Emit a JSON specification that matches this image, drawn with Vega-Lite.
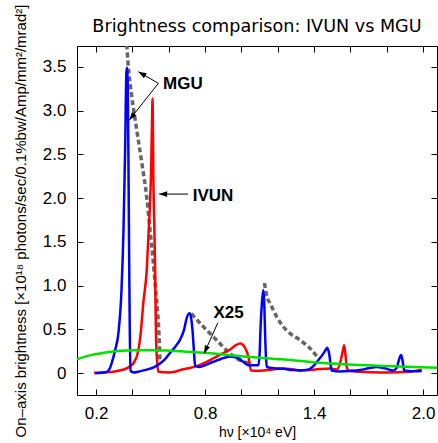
{
  "$schema": "https://vega.github.io/schema/vega-lite/v6.json",
  "width": 360,
  "height": 349,
  "autosize": {"type": "none"},
  "padding": {"left": 77, "top": 46, "right": 1, "bottom": 48},
  "background": "white",
  "config": {
    "view": {"stroke": "#000000", "strokeWidth": 1},
    "axis": {"domain": false, "grid": false, "tickColor": "#000000", "labelColor": "#000000", "titleColor": "#000000", "labelFont": "Liberation Sans", "titleFont": "Liberation Sans", "titleFontWeight": "normal", "tickSize": -6, "tickWidth": 1}
  },
  "title": {"text": "Brightness comparison: IVUN vs MGU", "font": "DejaVu Sans", "fontSize": 17.6, "fontWeight": "normal", "color": "#000000", "anchor": "middle", "frame": "group", "baseline": "alphabetic", "offset": -45},
  "datasets": {
    "curves": [
      {"s": "MGUt", "g": 1, "x": 0.366, "y": 3.85}, {"s": "MGUt", "g": 1, "x": 0.376, "y": 3.546}, {"s": "MGUt", "g": 1, "x": 0.397, "y": 3.16}, {"s": "MGUt", "g": 1, "x": 0.424, "y": 2.78}, {"s": "MGUt", "g": 1, "x": 0.452, "y": 2.40}, {"s": "MGUt", "g": 1, "x": 0.479, "y": 2.01}, {"s": "MGUt", "g": 1, "x": 0.497, "y": 1.64}, {"s": "MGUt", "g": 1, "x": 0.514, "y": 1.29}, {"s": "MGUt", "g": 1, "x": 0.528, "y": 0.95}, {"s": "MGUt", "g": 1, "x": 0.538, "y": 0.72}, {"s": "MGUt", "g": 1, "x": 0.547, "y": 0.415}, {"s": "MGUt", "g": 1, "x": 0.552, "y": 0.13},
      {"s": "MGUt", "g": 2, "x": 0.725, "y": 0.68}, {"s": "MGUt", "g": 2, "x": 0.791, "y": 0.53}, {"s": "MGUt", "g": 2, "x": 0.864, "y": 0.377}, {"s": "MGUt", "g": 2, "x": 0.938, "y": 0.225}, {"s": "MGUt", "g": 2, "x": 1.011, "y": 0.13}, {"s": "MGUt", "g": 2, "x": 1.057, "y": 0.11},
      {"s": "MGUt", "g": 3, "x": 1.127, "y": 1.03}, {"s": "MGUt", "g": 3, "x": 1.14, "y": 0.88}, {"s": "MGUt", "g": 3, "x": 1.158, "y": 0.797}, {"s": "MGUt", "g": 3, "x": 1.195, "y": 0.644}, {"s": "MGUt", "g": 3, "x": 1.231, "y": 0.53}, {"s": "MGUt", "g": 3, "x": 1.268, "y": 0.454}, {"s": "MGUt", "g": 3, "x": 1.323, "y": 0.377}, {"s": "MGUt", "g": 3, "x": 1.378, "y": 0.283}, {"s": "MGUt", "g": 3, "x": 1.424, "y": 0.168},

      {"s": "IVUN", "x": 0.189, "y": 0.003}, {"s": "IVUN", "x": 0.25, "y": 0.008}, {"s": "IVUN", "x": 0.295, "y": 0.015}, {"s": "IVUN", "x": 0.34, "y": 0.035}, {"s": "IVUN", "x": 0.369, "y": 0.054}, {"s": "IVUN", "x": 0.39, "y": 0.085}, {"s": "IVUN", "x": 0.405, "y": 0.11}, {"s": "IVUN", "x": 0.415, "y": 0.15}, {"s": "IVUN", "x": 0.424, "y": 0.19}, {"s": "IVUN", "x": 0.436, "y": 0.30}, {"s": "IVUN", "x": 0.447, "y": 0.48}, {"s": "IVUN", "x": 0.46, "y": 0.80}, {"s": "IVUN", "x": 0.479, "y": 1.18}, {"s": "IVUN", "x": 0.488, "y": 1.56}, {"s": "IVUN", "x": 0.497, "y": 1.94}, {"s": "IVUN", "x": 0.503, "y": 2.32}, {"s": "IVUN", "x": 0.507, "y": 2.75}, {"s": "IVUN", "x": 0.511, "y": 3.14}, {"s": "IVUN", "x": 0.513, "y": 2.8}, {"s": "IVUN", "x": 0.515, "y": 2.32}, {"s": "IVUN", "x": 0.52, "y": 1.75}, {"s": "IVUN", "x": 0.525, "y": 1.18}, {"s": "IVUN", "x": 0.53, "y": 0.42}, {"s": "IVUN", "x": 0.537, "y": 0.11}, {"s": "IVUN", "x": 0.543, "y": 0.015}, {"s": "IVUN", "x": 0.6, "y": 0.008}, {"s": "IVUN", "x": 0.64, "y": 0.018}, {"s": "IVUN", "x": 0.662, "y": 0.035}, {"s": "IVUN", "x": 0.71, "y": 0.055}, {"s": "IVUN", "x": 0.754, "y": 0.08}, {"s": "IVUN", "x": 0.8, "y": 0.12}, {"s": "IVUN", "x": 0.846, "y": 0.17}, {"s": "IVUN", "x": 0.89, "y": 0.22}, {"s": "IVUN", "x": 0.938, "y": 0.27}, {"s": "IVUN", "x": 0.97, "y": 0.32}, {"s": "IVUN", "x": 0.993, "y": 0.34}, {"s": "IVUN", "x": 1.01, "y": 0.32}, {"s": "IVUN", "x": 1.025, "y": 0.27}, {"s": "IVUN", "x": 1.04, "y": 0.18}, {"s": "IVUN", "x": 1.053, "y": 0.03}, {"s": "IVUN", "x": 1.103, "y": 0.026}, {"s": "IVUN", "x": 1.17, "y": 0.04}, {"s": "IVUN", "x": 1.231, "y": 0.054}, {"s": "IVUN", "x": 1.28, "y": 0.045}, {"s": "IVUN", "x": 1.323, "y": 0.034}, {"s": "IVUN", "x": 1.4, "y": 0.04}, {"s": "IVUN", "x": 1.488, "y": 0.054}, {"s": "IVUN", "x": 1.525, "y": 0.042}, {"s": "IVUN", "x": 1.543, "y": 0.11}, {"s": "IVUN", "x": 1.557, "y": 0.24}, {"s": "IVUN", "x": 1.566, "y": 0.32}, {"s": "IVUN", "x": 1.573, "y": 0.21}, {"s": "IVUN", "x": 1.58, "y": 0.07}, {"s": "IVUN", "x": 1.589, "y": 0.03}, {"s": "IVUN", "x": 1.653, "y": 0.015}, {"s": "IVUN", "x": 1.763, "y": 0.006}, {"s": "IVUN", "x": 1.873, "y": 0.011}, {"s": "IVUN", "x": 1.928, "y": 0.017}, {"s": "IVUN", "x": 1.993, "y": 0.04},

      {"s": "MGU", "x": 0.195, "y": 0.0}, {"s": "MGU", "x": 0.23, "y": 0.005}, {"s": "MGU", "x": 0.259, "y": 0.015}, {"s": "MGU", "x": 0.275, "y": 0.05}, {"s": "MGU", "x": 0.286, "y": 0.114}, {"s": "MGU", "x": 0.305, "y": 0.263}, {"s": "MGU", "x": 0.323, "y": 0.458}, {"s": "MGU", "x": 0.34, "y": 0.95}, {"s": "MGU", "x": 0.351, "y": 1.64}, {"s": "MGU", "x": 0.36, "y": 2.55}, {"s": "MGU", "x": 0.367, "y": 3.44}, {"s": "MGU", "x": 0.371, "y": 3.49}, {"s": "MGU", "x": 0.376, "y": 3.01}, {"s": "MGU", "x": 0.381, "y": 1.64}, {"s": "MGU", "x": 0.385, "y": 0.61}, {"s": "MGU", "x": 0.39, "y": 0.03}, {"s": "MGU", "x": 0.404, "y": 0.006}, {"s": "MGU", "x": 0.44, "y": 0.02}, {"s": "MGU", "x": 0.479, "y": 0.04}, {"s": "MGU", "x": 0.52, "y": 0.07}, {"s": "MGU", "x": 0.552, "y": 0.11}, {"s": "MGU", "x": 0.58, "y": 0.16}, {"s": "MGU", "x": 0.607, "y": 0.23}, {"s": "MGU", "x": 0.635, "y": 0.3}, {"s": "MGU", "x": 0.662, "y": 0.38}, {"s": "MGU", "x": 0.685, "y": 0.5}, {"s": "MGU", "x": 0.699, "y": 0.63}, {"s": "MGU", "x": 0.71, "y": 0.68}, {"s": "MGU", "x": 0.717, "y": 0.686}, {"s": "MGU", "x": 0.724, "y": 0.62}, {"s": "MGU", "x": 0.731, "y": 0.49}, {"s": "MGU", "x": 0.738, "y": 0.28}, {"s": "MGU", "x": 0.745, "y": 0.09}, {"s": "MGU", "x": 0.763, "y": 0.07}, {"s": "MGU", "x": 0.8, "y": 0.09}, {"s": "MGU", "x": 0.846, "y": 0.13}, {"s": "MGU", "x": 0.89, "y": 0.165}, {"s": "MGU", "x": 0.938, "y": 0.19}, {"s": "MGU", "x": 0.983, "y": 0.17}, {"s": "MGU", "x": 1.01, "y": 0.13}, {"s": "MGU", "x": 1.038, "y": 0.09}, {"s": "MGU", "x": 1.093, "y": 0.09}, {"s": "MGU", "x": 1.1, "y": 0.2}, {"s": "MGU", "x": 1.105, "y": 0.49}, {"s": "MGU", "x": 1.114, "y": 0.83}, {"s": "MGU", "x": 1.121, "y": 0.95}, {"s": "MGU", "x": 1.126, "y": 0.8}, {"s": "MGU", "x": 1.13, "y": 0.49}, {"s": "MGU", "x": 1.135, "y": 0.2}, {"s": "MGU", "x": 1.14, "y": 0.07}, {"s": "MGU", "x": 1.18, "y": 0.055}, {"s": "MGU", "x": 1.231, "y": 0.05}, {"s": "MGU", "x": 1.28, "y": 0.035}, {"s": "MGU", "x": 1.323, "y": 0.03}, {"s": "MGU", "x": 1.355, "y": 0.035}, {"s": "MGU", "x": 1.378, "y": 0.05}, {"s": "MGU", "x": 1.4, "y": 0.09}, {"s": "MGU", "x": 1.424, "y": 0.15}, {"s": "MGU", "x": 1.45, "y": 0.22}, {"s": "MGU", "x": 1.469, "y": 0.28}, {"s": "MGU", "x": 1.473, "y": 0.29}, {"s": "MGU", "x": 1.479, "y": 0.26}, {"s": "MGU", "x": 1.485, "y": 0.2}, {"s": "MGU", "x": 1.491, "y": 0.1}, {"s": "MGU", "x": 1.497, "y": 0.03}, {"s": "MGU", "x": 1.543, "y": 0.02}, {"s": "MGU", "x": 1.6, "y": 0.025}, {"s": "MGU", "x": 1.653, "y": 0.035}, {"s": "MGU", "x": 1.7, "y": 0.055}, {"s": "MGU", "x": 1.745, "y": 0.07}, {"s": "MGU", "x": 1.79, "y": 0.055}, {"s": "MGU", "x": 1.835, "y": 0.03}, {"s": "MGU", "x": 1.855, "y": 0.06}, {"s": "MGU", "x": 1.866, "y": 0.14}, {"s": "MGU", "x": 1.879, "y": 0.206}, {"s": "MGU", "x": 1.886, "y": 0.16}, {"s": "MGU", "x": 1.892, "y": 0.08}, {"s": "MGU", "x": 1.897, "y": 0.03}, {"s": "MGU", "x": 1.94, "y": 0.022}, {"s": "MGU", "x": 1.993, "y": 0.025},

      {"s": "X25", "x": 0.095, "y": 0.157}, {"s": "X25", "x": 0.17, "y": 0.206}, {"s": "X25", "x": 0.243, "y": 0.232}, {"s": "X25", "x": 0.334, "y": 0.255}, {"s": "X25", "x": 0.426, "y": 0.263}, {"s": "X25", "x": 0.518, "y": 0.263}, {"s": "X25", "x": 0.607, "y": 0.256}, {"s": "X25", "x": 0.708, "y": 0.244}, {"s": "X25", "x": 0.846, "y": 0.225}, {"s": "X25", "x": 1.03, "y": 0.187}, {"s": "X25", "x": 1.22, "y": 0.158}, {"s": "X25", "x": 1.415, "y": 0.122}, {"s": "X25", "x": 1.653, "y": 0.092}, {"s": "X25", "x": 1.87, "y": 0.075}, {"s": "X25", "x": 2.077, "y": 0.062}
    ],
    "labels": [
      {"text": "MGU", "x": 0.569, "y": 3.245},
      {"text": "IVUN", "x": 0.732, "y": 1.967},
      {"text": "X25", "x": 0.846, "y": 0.626}
    ],
    "arrows": [
      {"id": "m1", "x": 0.543, "y": 3.313, "x2": 0.433, "y2": 3.446},
      {"id": "m2", "x": 0.543, "y": 3.313, "x2": 0.383, "y2": 2.894},
      {"id": "iv", "x": 0.706, "y": 2.047, "x2": 0.547, "y2": 2.047},
      {"id": "xx", "x": 0.870, "y": 0.575, "x2": 0.795, "y2": 0.225}
    ]
  },
  "resolve": {"axis": {"x": "independent", "y": "independent"}},
  "layer": [
    {
      "data": {"name": "curves"},
      "transform": [{"filter": "datum.s == 'MGUt'"}],
      "mark": {"type": "line", "clip": true, "color": "#666666", "strokeWidth": 3.5, "strokeDash": [5, 3], "interpolate": "monotone"},
      "encoding": {
        "x": {"field": "x", "type": "quantitative", "scale": {"domain": [0.095, 2.077], "nice": false, "zero": false},
          "axis": {"orient": "bottom", "values": [0.2, 0.4, 0.6, 0.8, 1.0, 1.2, 1.4, 1.6, 1.8, 2.0], "labelExpr": "indexof([0.2, 0.8, 1.4, 2], datum.value) >= 0 ? format(datum.value, '.1f') : ''", "labelOverlap": false, "labelFlush": false, "labelFontSize": 17, "labelPadding": 16, "title": "hν [×10⁴ eV]", "titleFontSize": 14, "titlePadding": 4}},
        "y": {"field": "y", "type": "quantitative", "scale": {"domain": [-0.25, 3.74], "nice": false, "zero": false},
          "axis": {"orient": "left", "values": [0, 0.5, 1.0, 1.5, 2.0, 2.5, 3.0, 3.5], "labelExpr": "datum.value == 0 ? '0' : format(datum.value, '.1f')", "labelOverlap": false, "labelFlush": false, "labelFontSize": 17, "labelPadding": 17, "title": "On–axis brightness [×10¹⁸ photons/sec/0.1%bw/Amp/mm²/mrad²]", "titleFontSize": 15, "titlePadding": 14}},
        "detail": {"field": "g", "type": "nominal"}
      }
    },
    {
      "data": {"name": "curves"},
      "transform": [{"filter": "datum.s != 'MGUt'"}],
      "mark": {"type": "line", "clip": true, "strokeWidth": 2.5, "interpolate": "monotone"},
      "encoding": {
        "x": {"field": "x", "type": "quantitative", "scale": {"domain": [0.095, 2.077], "nice": false, "zero": false},
          "axis": {"orient": "top", "values": [0.2, 0.4, 0.6, 0.8, 1.0, 1.2, 1.4, 1.6, 1.8, 2.0], "labels": false, "title": null}},
        "y": {"field": "y", "type": "quantitative", "scale": {"domain": [-0.25, 3.74], "nice": false, "zero": false},
          "axis": {"orient": "right", "values": [0, 0.5, 1.0, 1.5, 2.0, 2.5, 3.0, 3.5], "labels": false, "title": null}},
        "color": {"field": "s", "type": "nominal", "scale": {"domain": ["IVUN", "MGU", "X25"], "range": ["#ff0000", "#0000ff", "#00e000"]}, "legend": null}
      }
    },
    {
      "data": {"name": "arrows"},
      "mark": {"type": "rule", "color": "#000000", "strokeWidth": 1},
      "encoding": {
        "x": {"field": "x", "type": "quantitative", "axis": null},
        "y": {"field": "y", "type": "quantitative", "axis": null},
        "x2": {"field": "x2"},
        "y2": {"field": "y2"}
      }
    },
    {
      "data": {"name": "arrows"},
      "transform": [{"filter": "datum.id == 'm1'"}],
      "mark": {"type": "point", "shape": "M0,0L-0.7,2L0.7,2Z", "filled": true, "color": "#000000", "opacity": 1, "size": 64, "angle": 300},
      "encoding": {"x": {"field": "x2", "type": "quantitative", "axis": null}, "y": {"field": "y2", "type": "quantitative", "axis": null}}
    },
    {
      "data": {"name": "arrows"},
      "transform": [{"filter": "datum.id == 'm2'"}],
      "mark": {"type": "point", "shape": "M0,0L-0.7,2L0.7,2Z", "filled": true, "color": "#000000", "opacity": 1, "size": 64, "angle": 218},
      "encoding": {"x": {"field": "x2", "type": "quantitative", "axis": null}, "y": {"field": "y2", "type": "quantitative", "axis": null}}
    },
    {
      "data": {"name": "arrows"},
      "transform": [{"filter": "datum.id == 'iv'"}],
      "mark": {"type": "point", "shape": "M0,0L-0.7,2L0.7,2Z", "filled": true, "color": "#000000", "opacity": 1, "size": 64, "angle": 270},
      "encoding": {"x": {"field": "x2", "type": "quantitative", "axis": null}, "y": {"field": "y2", "type": "quantitative", "axis": null}}
    },
    {
      "data": {"name": "arrows"},
      "transform": [{"filter": "datum.id == 'xx'"}],
      "mark": {"type": "point", "shape": "M0,0L-0.7,2L0.7,2Z", "filled": true, "color": "#000000", "opacity": 1, "size": 64, "angle": 204},
      "encoding": {"x": {"field": "x2", "type": "quantitative", "axis": null}, "y": {"field": "y2", "type": "quantitative", "axis": null}}
    },
    {
      "data": {"name": "labels"},
      "mark": {"type": "text", "font": "Liberation Sans", "fontSize": 17, "fontWeight": "bold", "align": "left", "baseline": "alphabetic", "color": "#000000"},
      "encoding": {
        "x": {"field": "x", "type": "quantitative", "axis": null},
        "y": {"field": "y", "type": "quantitative", "axis": null},
        "text": {"field": "text"}
      }
    }
  ]
}
